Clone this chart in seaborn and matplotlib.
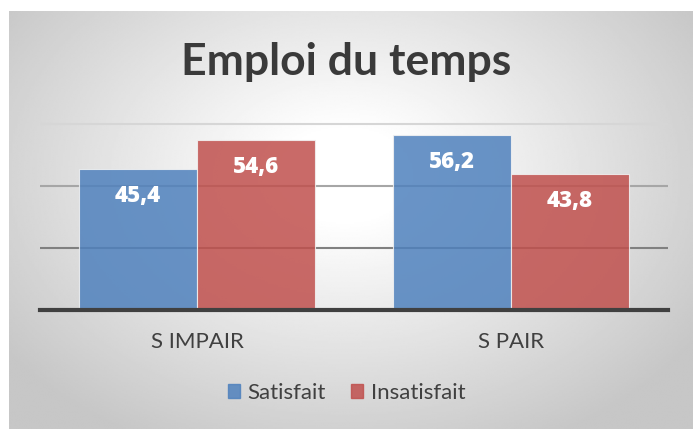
import numpy as np
import pandas as pd
import matplotlib.pyplot as plt
import seaborn as sns

# data
groups = ["S IMPAIR", "S PAIR"]
satisfait = [45.4, 56.2]
insatisfait = [54.6, 43.8]
series = ["Satisfait", "Insatisfait"]

df = pd.DataFrame({
    "Semestre": groups * 2,
    "Avis": [series[0]] * 2 + [series[1]] * 2,
    "Pourcentage": satisfait + insatisfait,
})

sns.set_style("white")
plt.rcParams["font.family"] = ["Lato", "DejaVu Sans"]

W, H = 693, 429
fig = plt.figure(figsize=(W / 100, H / 100), dpi=100)

# background panel with a radial grey gradient
bg = fig.add_axes([9 / W, 0, 1 - 9 / W, 1 - 11 / H])
xx, yy = np.meshgrid(np.linspace(9, W, 400), np.linspace(11, H, 260))
r = np.sqrt(((xx - 345) / 420) ** 2 + ((yy - 175) / 300) ** 2)
shade = 1 - np.clip((r - 0.15) / 0.85, 0, 1) * 0.22
bg.imshow(shade, cmap="gray", vmin=0, vmax=1, aspect="auto",
          extent=[0, 1, 0, 1], interpolation="bilinear")
bg.axis("off")

ax = fig.add_axes([40 / W, 1 - 310 / H, 628 / W, 186.5 / H * 60.5 / 60])
ax.patch.set_alpha(0)

palette = {"Satisfait": "#4F81BD", "Insatisfait": "#C0504D"}
sns.barplot(data=df, x="Semestre", y="Pourcentage", hue="Avis", palette=palette,
            width=0.75, saturation=1, alpha=0.85, edgecolor="#f2f2f2",
            linewidth=0.8, ax=ax, legend=False)

ax.set_xlim(-0.5, 1.5)
ax.set_ylim(0, 60.5)
ax.set_yticks([0, 20, 40, 60])
ax.set_yticklabels([])
ax.set_axisbelow(True)
ax.yaxis.grid(True)
for gl, c in zip(ax.get_ygridlines(), ["#808080", "#808080", "#a6a6a6", "#d6d6d6"]):
    gl.set_color(c)
    gl.set_linewidth(1.5)
ax.tick_params(axis="both", length=0)
ax.tick_params(axis="x", pad=16, labelsize=16, labelcolor="#404040")
ax.set_xlabel("")
ax.set_ylabel("")
for s in ["top", "left", "right"]:
    ax.spines[s].set_visible(False)
ax.spines["bottom"].set_color("#404040")
ax.spines["bottom"].set_linewidth(3)

for cont in ax.containers:
    labels = [f"{b.get_height():.1f}".replace(".", ",") for b in cont]
    ax.bar_label(cont, labels=labels, padding=-28, color="white",
                 fontsize=16, fontweight="heavy", family=["Open Sans", "DejaVu Sans"])

fig.text(0.5, 1 - 62 / H, "Emploi du temps", ha="center", va="center",
         fontsize=32, fontweight="bold", color="#3a3a3a")

handles = [plt.Rectangle((0, 0), 1, 1, color=palette[s], alpha=0.85) for s in series]
fig.legend(handles, series, loc="center", bbox_to_anchor=(0.5, 1 - 393 / H),
           ncol=2, frameon=False, fontsize=16, handlelength=0.55, handleheight=0.6,
           handletextpad=0.35, columnspacing=1.1, labelcolor="#404040")

fig.savefig("out.png", dpi=100)
